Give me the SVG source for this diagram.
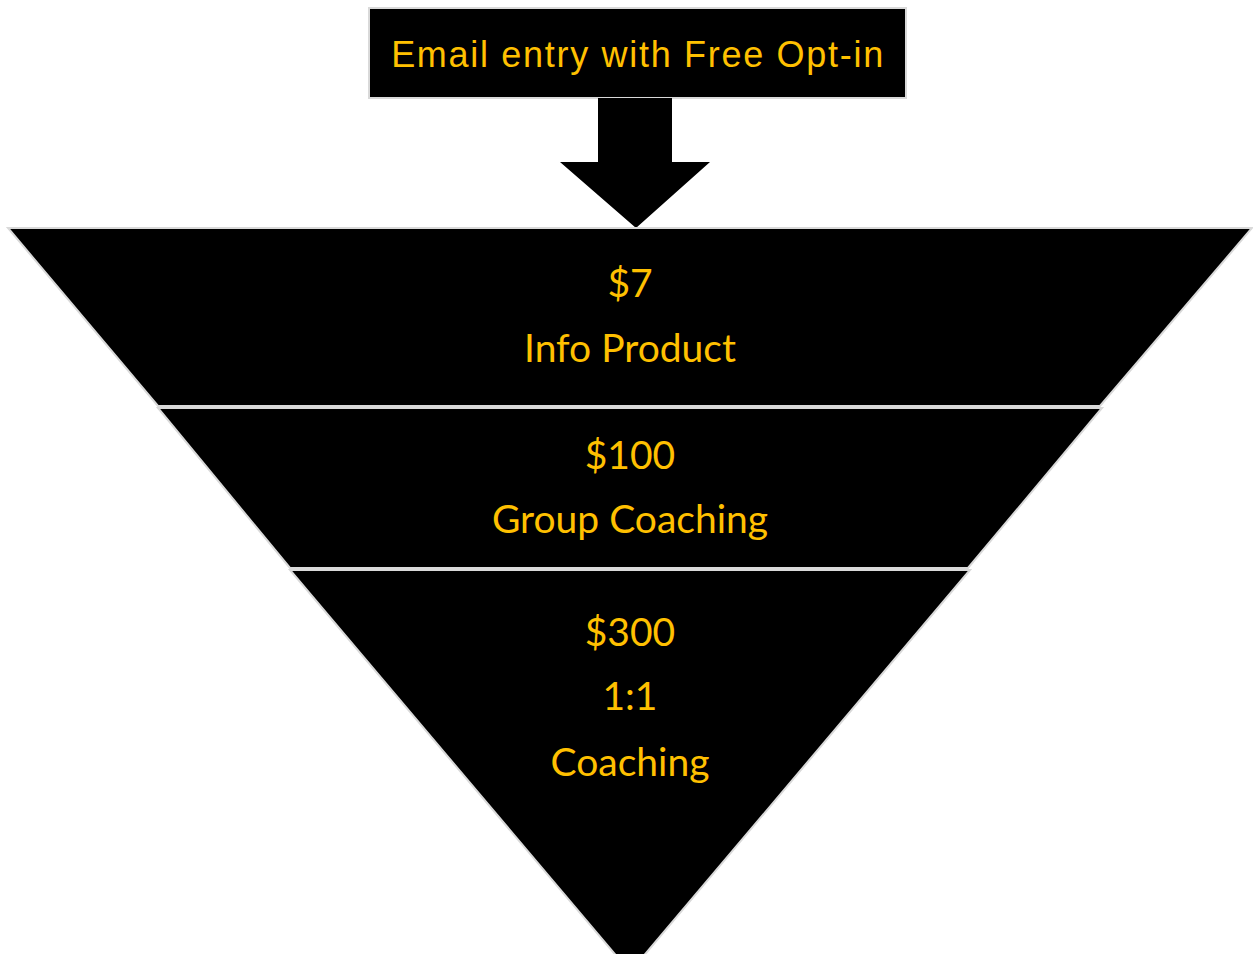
<svg xmlns="http://www.w3.org/2000/svg" width="1253" height="954" viewBox="0 0 1253 954">
<style>
.shape{fill:#000;stroke:#d9d9d9;stroke-width:2}
.entry{font-family:"Liberation Sans",Arial,sans-serif;font-size:36px;letter-spacing:1.7px;fill:#FFC000;text-anchor:middle}
.lbl{font-family:Lato,"Open Sans",sans-serif;font-size:39px;fill:#FFC000;text-anchor:middle}
</style>
<rect width="1253" height="954" fill="#fff"/>
<g id="entry">
<rect class="shape" x="369" y="8" width="537" height="90"/>
<text class="entry" x="638" y="67">Email entry with Free Opt-in</text>
</g>
<g id="connectors">
<path d="M598,98 H672 V162 H710 L636,228 L560,162 H598 Z" fill="#000"/>
</g>
<g id="tier1">
<polygon class="shape" points="8,228 1252,228 1100,406 158,406"/>
<text class="lbl" x="630" y="297">$7</text>
<text class="lbl" x="630" y="362">Info Product</text>
</g>
<g id="tier2">
<polygon class="shape" points="158,408 1102,408 968,568 290,568"/>
<text class="lbl" x="630" y="469">$100</text>
<text class="lbl" x="630" y="533">Group Coaching</text>
</g>
<g id="tier3">
<polygon class="shape" points="290,570 970,570 630,972"/>
<text class="lbl" x="630" y="646">$300</text>
<text class="lbl" x="630" y="710">1:1</text>
<text class="lbl" x="630" y="776">Coaching</text>
</g>
</svg>
